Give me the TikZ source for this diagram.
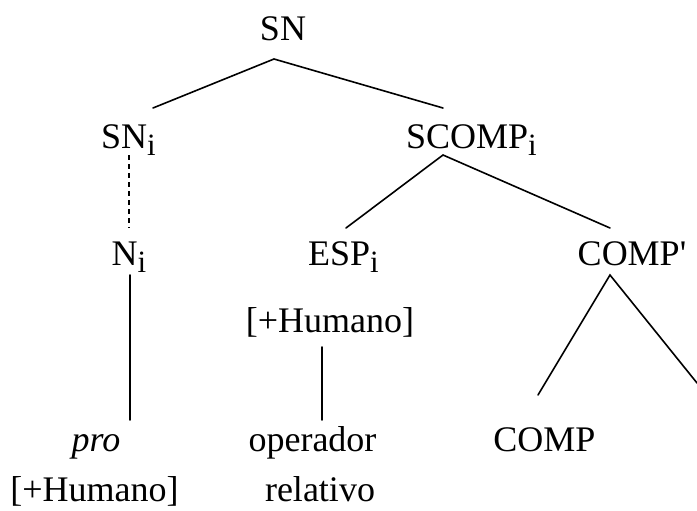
\documentclass[tikz,border=0pt]{standalone}
\usepackage{fontspec}
\setmainfont{Liberation Serif}
\newcommand{\ix}{\raisebox{-7pt}{\fontsize{31}{31}\selectfont i}}
\begin{document}
\begin{tikzpicture}[x=1pt,y=-1pt,
  lbl/.style={anchor=base,inner sep=0pt,font=\fontsize{36}{40}\selectfont},
  edge/.style={line width=1.6pt,line cap=round},
  dashedge/.style={line width=1.6pt,dash pattern=on 5pt off 4pt}]
\useasboundingbox (0,0) rectangle (697,511);
\node[lbl] (sn)    at (283,41)    {SN};
\node[lbl] (sni)   at (128.5,148) {SN\ix};
\node[lbl] (scomp) at (471.5,148) {SCOMP\ix};
\node[lbl] (ni)    at (129,265)   {N\ix};
\node[lbl] (esp)   at (343.5,265) {ESP\ix};
\node[lbl] (compp) at (632,265)   {COMP\textquotesingle};
\node[lbl] (hum1)  at (330,332)   {[+Humano]};
\node[lbl] (pro)   at (96,451)    {\textit{pro}};
\node[lbl] (oper)  at (312.5,451) {operador};
\node[lbl] (comp)  at (544.5,451) {COMP};
\node[lbl] (hum2)  at (94.5,501)  {[+Humano]};
\node[lbl] (rel)   at (320,501)   {relativo};
\coordinate (cut) at (697,383);
\draw[edge] ([shift={(24.5,-40)}]sni.base) -- ([shift={(-9,18)}]sn.base) -- ([shift={(-28.5,-40)}]scomp.base);
\draw[dashedge] ([shift={(0.5,7)}]sni.base) -- ([shift={(0,-37)}]ni.base);
\draw[edge] ([shift={(2.5,-37)}]esp.base) -- ([shift={(-28.5,7)}]scomp.base) -- ([shift={(-22,-37)}]compp.base);
\draw[edge] ([shift={(1,10)}]ni.base) -- ([shift={(34,-31)}]pro.base);
\draw[edge] ([shift={(-8,15)}]hum1.base) -- ([shift={(9.5,-31)}]oper.base);
\draw[edge] ([shift={(-6.5,-56)}]comp.base) -- ([shift={(-22,10)}]compp.base) -- (cut);
\end{tikzpicture}
\end{document}
